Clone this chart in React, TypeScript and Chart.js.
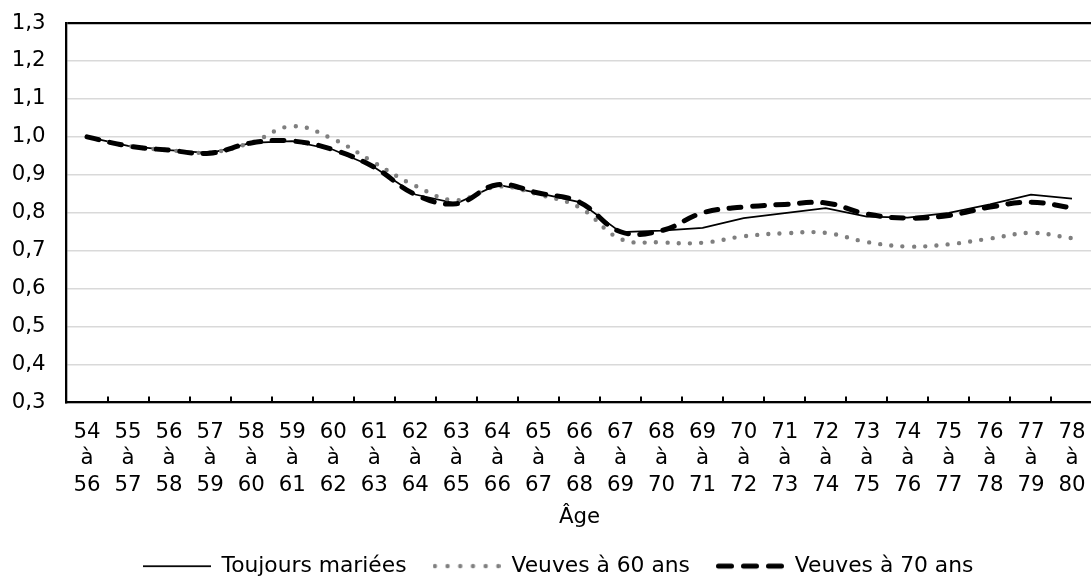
import React, { useEffect, useRef } from "react";
import { Chart, registerables } from "chart.js";

Chart.register(...registerables);

const categories: string[][] = [
  ["54", "à", "56"], ["55", "à", "57"], ["56", "à", "58"], ["57", "à", "59"], ["58", "à", "60"],
  ["59", "à", "61"], ["60", "à", "62"], ["61", "à", "63"], ["62", "à", "64"], ["63", "à", "65"],
  ["64", "à", "66"], ["65", "à", "67"], ["66", "à", "68"], ["67", "à", "69"], ["68", "à", "70"],
  ["69", "à", "71"], ["70", "à", "72"], ["71", "à", "73"], ["72", "à", "74"], ["73", "à", "75"],
  ["74", "à", "76"], ["75", "à", "77"], ["76", "à", "78"], ["77", "à", "79"], ["78", "à", "80"],
];

const toujoursMariees: number[] = [
  1.0, 0.976, 0.965, 0.957, 0.984, 0.989, 0.966, 0.92, 0.848, 0.824, 0.874, 0.852, 0.828,
  0.749, 0.753, 0.76, 0.786, 0.799, 0.812, 0.79, 0.787, 0.8, 0.822, 0.848, 0.837,
];

const veuves60: number[] = [
  1.0, 0.976, 0.965, 0.959, 0.985, 1.028, 0.994, 0.932, 0.871, 0.833, 0.869, 0.848, 0.814,
  0.731, 0.722, 0.721, 0.738, 0.746, 0.747, 0.723, 0.711, 0.717, 0.732, 0.747, 0.733,
];

const veuves70: number[] = [
  1.0, 0.976, 0.965, 0.957, 0.984, 0.989, 0.966, 0.92, 0.848, 0.824, 0.874, 0.852, 0.828,
  0.75, 0.753, 0.8, 0.815, 0.822, 0.826, 0.797, 0.786, 0.793, 0.815, 0.828, 0.813,
];

const seriesNames: string[] = ["Toujours mariées", "Veuves à 60 ans", "Veuves à 70 ans"];
const axisTitle = "Âge";
const yMin = 0.3;
const yMax = 1.3;
const yStep = 0.1;

const FONT = "'DejaVu Sans', Verdana, sans-serif";
const FS = 21.3;
const LEGEND_FS = 21.8;
const SAMPLE_W = 68;

function makeSample(kind: number): HTMLCanvasElement {
  const c = document.createElement("canvas");
  c.width = SAMPLE_W;
  c.height = 12;
  const g = c.getContext("2d") as CanvasRenderingContext2D;
  const cy = 6;
  if (kind === 0) {
    g.strokeStyle = "#000";
    g.lineWidth = 1.75;
    g.beginPath();
    g.moveTo(0, cy);
    g.lineTo(SAMPLE_W, cy);
    g.stroke();
  } else if (kind === 1) {
    g.fillStyle = "#7f7f7f";
    for (let k = 0; k < 6; k++) {
      g.beginPath();
      g.arc(2.3 + k * 12.7, cy, 2.2, 0, Math.PI * 2);
      g.fill();
    }
  } else {
    g.strokeStyle = "#000";
    g.lineWidth = 5;
    g.lineCap = "round";
    g.setLineDash([13, 12]);
    g.beginPath();
    g.moveTo(2.5, cy);
    g.lineTo(SAMPLE_W - 2.5, cy);
    g.stroke();
  }
  return c;
}

const innerTicks = {
  id: "innerTicks",
  afterDraw(chart: any) {
    const xs = chart.scales.x;
    const { bottom } = chart.chartArea;
    const ctx = chart.ctx;
    ctx.save();
    ctx.strokeStyle = "#000";
    ctx.lineWidth = 2;
    for (let k = 1; k < categories.length; k++) {
      const px = Math.round(xs.getPixelForValue(k - 0.5));
      ctx.beginPath();
      ctx.moveTo(px, bottom);
      ctx.lineTo(px, bottom - 6);
      ctx.stroke();
    }
    ctx.restore();
  },
};

export default function App() {
  const ref = useRef<HTMLCanvasElement | null>(null);

  useEffect(() => {
    if (!ref.current) return;
    const samples = [makeSample(0), makeSample(1), makeSample(2)];
    const chart = new Chart(ref.current, {
      type: "line",
      data: {
        labels: categories,
        datasets: [
          {
            label: seriesNames[0],
            data: toujoursMariees,
            borderColor: "#000",
            backgroundColor: "#000",
            borderWidth: 1.75,
            tension: 0,
            pointRadius: 0,
            order: 3,
          },
          {
            label: seriesNames[1],
            data: veuves60,
            borderColor: "#7f7f7f",
            backgroundColor: "#7f7f7f",
            borderWidth: 4.4,
            borderDash: [0, 11.3],
            borderCapStyle: "round",
            tension: 0.4,
            pointRadius: 0,
            order: 2,
          },
          {
            label: seriesNames[2],
            data: veuves70,
            borderColor: "#000",
            backgroundColor: "#000",
            borderWidth: 5,
            borderDash: [12, 11.5],
            borderCapStyle: "round",
            tension: 0.4,
            pointRadius: 0,
            order: 1,
          },
        ],
      },
      options: {
        animation: false,
        responsive: false,
        devicePixelRatio: 1,
        layout: { padding: { top: 23, left: 0, right: 0, bottom: 0 } },
        plugins: {
          tooltip: { enabled: false },
          legend: {
            position: "bottom",
            labels: {
              usePointStyle: true,
              pointStyleWidth: SAMPLE_W,
              padding: 26,
              color: "#000",
              font: { family: FONT, size: LEGEND_FS },
              generateLabels: (ch: any) => {
                const items = (Chart as any).defaults.plugins.legend.labels.generateLabels(ch);
                items.forEach((it: any) => {
                  it.pointStyle = samples[it.datasetIndex];
                });
                return items;
              },
              sort: (a: any, b: any) => a.datasetIndex - b.datasetIndex,
            },
          },
        },
        scales: {
          x: {
            type: "category",
            offset: true,
            grid: { display: false, drawTicks: false },
            border: { display: true, color: "#000", width: 2.3 },
            ticks: {
              color: "#000",
              padding: 17,
              maxRotation: 0,
              autoSkip: false,
              font: { family: FONT, size: FS, lineHeight: 1.23 },
            },
            title: {
              display: true,
              text: axisTitle,
              color: "#000",
              font: { family: FONT, size: FS },
              padding: { top: -10, bottom: -1.5 },
            },
          },
          y: {
            type: "linear",
            min: yMin,
            max: yMax,
            afterFit: (s: any) => {
              s.width = 66.5;
            },
            grid: {
              drawTicks: true,
              tickLength: 21,
              tickColor: "rgba(0,0,0,0)",
              color: (c: any) => (c.index === c.chart.scales.y.ticks.length - 1 ? "#000" : "#d9d9d9"),
              lineWidth: (c: any) => (c.index === c.chart.scales.y.ticks.length - 1 ? 2.3 : 1.5),
            },
            border: { display: true, color: "#000", width: 2.3 },
            ticks: {
              stepSize: yStep,
              padding: 0,
              color: "#000",
              font: { family: FONT, size: FS },
              callback: (v: any) => Number(v).toFixed(1).replace(".", ","),
            },
          },
          yR: {
            type: "linear",
            position: "right",
            display: true,
            afterFit: (s: any) => {
              s.width = 23.5;
            },
            grid: { display: false, drawTicks: false },
            border: { display: false },
            ticks: { display: false },
          },
        },
      },
      plugins: [innerTicks],
    } as any);
    return () => chart.destroy();
  }, []);

  return (
    <div
      style={{
        position: "fixed",
        left: 0,
        top: 0,
        width: 1091,
        height: 579,
        overflow: "hidden",
        background: "#fff",
      }}
    >
      <canvas ref={ref} width={1116} height={587} style={{ display: "block", width: 1116, height: 587 }} />
    </div>
  );
}
